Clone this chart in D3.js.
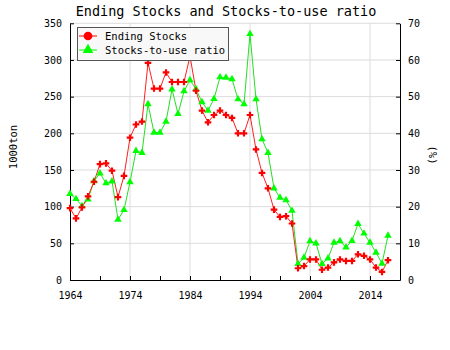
<!DOCTYPE html>
<html><head><meta charset="utf-8">
<script src="https://cdn.jsdelivr.net/npm/d3@7"></script>
<style>body{margin:0;background:#fff}svg{display:block}text{font-family:"DejaVu Sans Mono",monospace}</style>
</head><body>
<svg id="c" width="450" height="350"></svg>
<script>
const years = d3.range(1964, 2018);
const endingStocks = [98,84,99,114,134,158,159,149,113,142,194,212,216,296,261,261,283,270,270,270,305,258,231,215,225,231,225,221,200,200,225,178,146,125,96,86,87,77,16,19,28,28,14,17,24,28,26,26,35,33,28,17,11,27];
const stocksToUse = [23.5,22.1,20.2,22,27,29.1,26.4,26.9,16.5,19.1,26.7,35.2,34.7,48,40.2,40.2,43.2,52,45.3,51.5,54.5,52.1,48.5,46.2,49.4,55.3,55.2,54.8,49.3,48,67.1,49.3,38.4,34.7,25,22.5,21.8,18.9,4.4,6.1,10.6,10,4.4,5.9,10.2,10.6,8.9,10.7,15.3,12.7,10.2,7.5,4.5,12.1];
const xTicks = [1964,1974,1984,1994,2004,2014];
const xMinorTicks = d3.range(1964, 2020, 5);
const leftTicks = [0,50,100,150,200,250,300,350];
const rightTicks = [0,10,20,30,40,50,60,70];
const seriesNames = ["Ending Stocks","Stocks-to-use ratio"];

const svg = d3.select("#c");
const L=70,R=400,T=23.3,B=280;
const x = d3.scaleLinear().domain([1964,2019]).range([L,R]);
const yL = d3.scaleLinear().domain([0,350]).range([B,T]);
const yR = d3.scaleLinear().domain([0,70]).range([B,T]);

// grid
const g = svg.append("g");
g.selectAll("line.gy").data(leftTicks.slice(1)).join("line")
  .attr("x1",L).attr("x2",R).attr("y1",d=>yL(d)).attr("y2",d=>yL(d))
  .attr("stroke","#dcdcdc").attr("stroke-width",1);
g.selectAll("line.gx").data(xTicks.slice(1)).join("line")
  .attr("x1",d=>x(d)).attr("x2",d=>x(d)).attr("y1",T).attr("y2",B)
  .attr("stroke","#dcdcdc").attr("stroke-width",1);

// axes
const axL = d3.axisLeft(yL).tickValues(leftTicks).tickSizeInner(-4).tickSizeOuter(0).tickPadding(8);
const axR = d3.axisRight(yR).tickValues(rightTicks).tickSizeInner(-4).tickSizeOuter(0).tickPadding(8);
const axB = d3.axisBottom(x).tickValues(xMinorTicks).tickSizeInner(-4).tickSizeOuter(0).tickPadding(12)
  .tickFormat(d=> xTicks.includes(d)? d : "");
function style(sel){
  sel.selectAll("path.domain").attr("stroke","#000");
  sel.selectAll("line").attr("stroke","#000");
  sel.selectAll("text").attr("font-size","10px").attr("fill","#000").style("font-family","'DejaVu Sans Mono',monospace");
}
svg.append("g").attr("transform",`translate(${L},0)`).call(axL).call(style);
svg.append("g").attr("transform",`translate(${R},0)`).call(axR).call(style);
svg.append("g").attr("transform",`translate(0,${B})`).call(axB).call(style);

// lines
const red="#ff0000";
const lineS = d3.line().x((d,i)=>x(years[i])).y(d=>yL(d));
const lineR = d3.line().x((d,i)=>x(years[i])).y(d=>yR(d));
svg.append("path").attr("d",lineR(stocksToUse)).attr("fill","none").attr("stroke","#22e022").attr("stroke-width",1);
svg.append("path").attr("d",lineS(endingStocks)).attr("fill","none").attr("stroke","#ff2020").attr("stroke-width",1);
const tri = d3.symbol().type(d3.symbolTriangle).size(24);
const crs = d3.symbol().type(d3.symbolCross).size(24);
svg.append("g").selectAll("path").data(stocksToUse).join("path")
  .attr("d",tri).attr("transform",(d,i)=>`translate(${x(years[i])},${yR(d)})`).attr("fill","#00ff00");
svg.append("g").selectAll("path").data(endingStocks).join("path")
  .attr("d",crs).attr("transform",(d,i)=>`translate(${x(years[i])},${yL(d)})`).attr("fill",red);

// legend
const lg = svg.append("g");
lg.append("rect").attr("x",77.5).attr("y",27.5).attr("width",151).attr("height",33)
  .attr("fill","#f8f8f8").attr("stroke","#555").attr("stroke-width",1);
[[36,red,d3.symbolCircle,60],[50,"#00ff00",d3.symbolTriangle,50]].forEach(([yy,c,t,s],i)=>{
  lg.append("line").attr("x1",79).attr("x2",97).attr("y1",yy).attr("y2",yy).attr("stroke",c).attr("stroke-width",1);
  lg.append("path").attr("d",d3.symbol().type(t).size(s)).attr("transform",`translate(88,${yy})`).attr("fill",c);
  lg.append("text").attr("x",105).attr("y",yy).attr("dy","0.35em").attr("font-size","10.5px").text(seriesNames[i]);
});

// title and axis labels
svg.append("text").attr("x",226).attr("y",16).attr("text-anchor","middle").attr("font-size","13.5px").text("Ending Stocks and Stocks-to-use ratio");
svg.append("text").attr("transform","translate(17,147) rotate(-90)").attr("text-anchor","middle").attr("font-size","10.5px").text("1000ton");
svg.append("text").attr("transform","translate(429,155) rotate(90)").attr("text-anchor","middle").attr("font-size","10.5px").text("(%)");
</script>
</body></html>
